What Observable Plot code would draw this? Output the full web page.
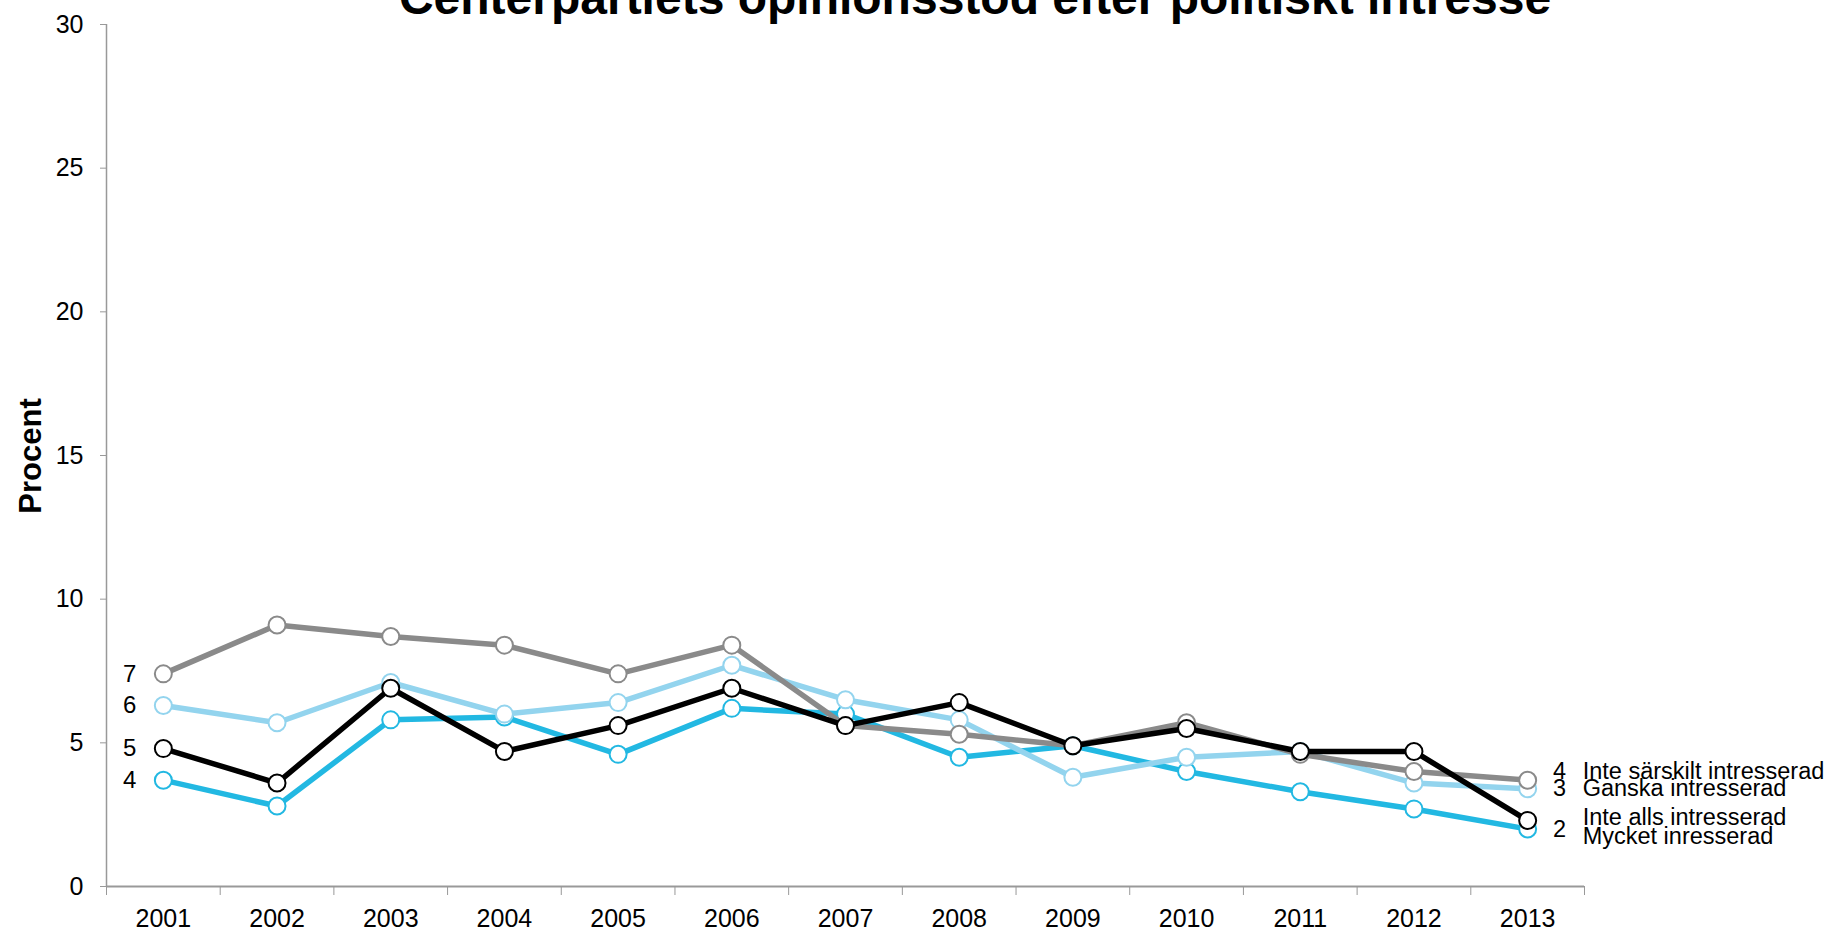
<!DOCTYPE html>
<html>
<head>
<meta charset="utf-8">
<script src="https://cdn.jsdelivr.net/npm/d3@7"></script>
<script src="https://cdn.jsdelivr.net/npm/@observablehq/plot@0.6"></script>
<style>
  html, body { margin: 0; padding: 0; background: #fff; }
  svg { font-family: "Liberation Sans", Arial, sans-serif; }
</style>
</head>
<body>
<script>
const title = "Centerpartiets opinionsstöd efter politiskt intresse";
const yLabel = "Procent";
const years = [2001, 2002, 2003, 2004, 2005, 2006, 2007, 2008, 2009, 2010, 2011, 2012, 2013];
const yTicks = [0, 5, 10, 15, 20, 25, 30];

const mycket = [3.7, 2.8, 5.8, 5.9, 4.6, 6.2, 6.0, 4.5, 4.9, 4.0, 3.3, 2.7, 2.0];
const ganska = [6.3, 5.7, 7.1, 6.0, 6.4, 7.7, 6.5, 5.8, 3.8, 4.5, 4.7, 3.6, 3.4];
const inteSarskilt = [7.4, 9.1, 8.7, 8.4, 7.4, 8.4, 5.6, 5.3, 4.9, 5.7, 4.6, 4.0, 3.7];
const inteAlls = [4.8, 3.6, 6.9, 4.7, 5.6, 6.9, 5.6, 6.4, 4.9, 5.5, 4.7, 4.7, 2.3];

const seriesNames = ["Mycket inresserad", "Ganska intresserad", "Inte särskilt intresserad", "Inte alls intresserad"];
const seriesValues = [mycket, ganska, inteSarskilt, inteAlls];
const showEndNumber = [true, true, true, false];

// styles (not data)
const styles = {
  "Mycket inresserad":        {color: "#22b8e2", leftDy: 0, rightDy: 7,  numDy: 0},
  "Ganska intresserad":       {color: "#93d4ee", leftDy: 0, rightDy: 0,  numDy: 0},
  "Inte särskilt intresserad":{color: "#8a8a8a", leftDy: 0, rightDy: -9, numDy: -9},
  "Inte alls intresserad":    {color: "#000000", leftDy: 0, rightDy: -3, numDy: 0}
};

const rows = seriesNames.flatMap((name, i) =>
  years.map((year, j) => ({series: name, year, value: seriesValues[i][j]}))
);

const boundaries = [...years.map(y => y - 0.5), years[years.length - 1] + 0.5];
const xDomain = [boundaries[0], boundaries[boundaries.length - 1]];
const firstYear = years[0], lastYear = years[years.length - 1];

const marks = [
  Plot.ruleY([0], {stroke: "#999", strokeWidth: 2}),
  Plot.ruleX([xDomain[0]], {y1: yTicks[0], y2: yTicks[yTicks.length - 1], stroke: "#999", strokeWidth: 1.5}),
  Plot.axisY({ticks: yTicks, tickSize: 6, tickPadding: 17, fontSize: 25, stroke: "#999", fill: "#000", label: null}),
  Plot.axisX({ticks: years, tickSize: 0, tickPadding: 23, fontSize: 25, fill: "#000", tickFormat: d => String(d), label: null}),
  Plot.axisX({ticks: boundaries, tickSize: 9, stroke: "#999", tickFormat: () => "", label: null})
];

seriesNames.forEach((name, i) => {
  const st = styles[name];
  const data = rows.filter(d => d.series === name);
  marks.push(Plot.line(data, {x: "year", y: "value", stroke: st.color, strokeWidth: 5.5, strokeLinejoin: "round"}));
  marks.push(Plot.dot(data, {x: "year", y: "value", r: 8.5, fill: "white", stroke: st.color, strokeWidth: 2}));
});

seriesNames.forEach((name, i) => {
  const st = styles[name];
  const first = rows.filter(d => d.series === name && d.year === firstYear);
  const last = rows.filter(d => d.series === name && d.year === lastYear);
  marks.push(Plot.text(first, {x: "year", y: "value", text: d => String(Math.round(d.value)),
    textAnchor: "end", dx: -27, dy: st.leftDy, fontSize: 24, fill: "#000"}));
  if (showEndNumber[i]) {
    marks.push(Plot.text(last, {x: "year", y: "value", text: d => String(Math.round(d.value)),
      textAnchor: "middle", dx: 32, dy: st.numDy, fontSize: 23.5, fill: "#000"}));
  }
  marks.push(Plot.text(last, {x: "year", y: "value", text: d => d.series,
    textAnchor: "start", dx: 55, dy: st.rightDy, fontSize: 23.5, fill: "#000"}));
});

const chart = Plot.plot({
  width: 1833,
  height: 932,
  marginLeft: 106,
  marginRight: 249,
  marginTop: 24,
  marginBottom: 46,
  x: {domain: xDomain},
  y: {domain: [yTicks[0], yTicks[yTicks.length - 1]]},
  style: {fontFamily: "'Liberation Sans', Arial, sans-serif", background: "white", overflow: "visible"},
  marks
});

const svg = d3.select(chart);
svg.append("text")
  .attr("x", 975).attr("y", 14)
  .attr("text-anchor", "middle")
  .style("font", "bold 48px 'Liberation Sans', Arial, sans-serif")
  .attr("fill", "#000")
  .text(title);
svg.append("text")
  .attr("transform", "translate(41,456) rotate(-90)")
  .attr("text-anchor", "middle")
  .style("font", "bold 31px 'Liberation Sans', Arial, sans-serif")
  .attr("fill", "#000")
  .text(yLabel);

document.body.appendChild(chart);
</script>
</body>
</html>
